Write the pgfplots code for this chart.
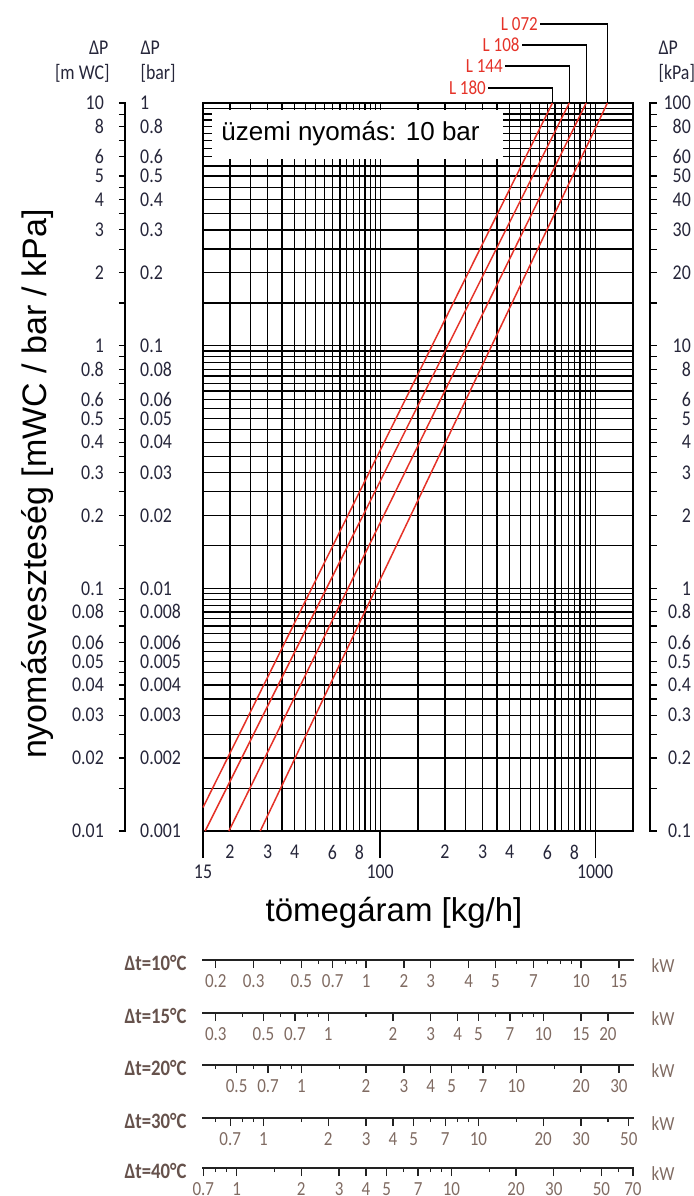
\documentclass[border=0pt]{standalone}
\usepackage{pgfplots}
\pgfplotsset{compat=1.18}
\usepackage{fontspec}
\setmainfont{Liberation Sans}
\newfontfamily\lab[FakeStretch=0.85]{Carlito}
\definecolor{linered}{HTML}{E53228}
\definecolor{ticktxt}{HTML}{26263A}
\definecolor{dtbrown}{HTML}{66524C}
\definecolor{kwbrown}{HTML}{806B62}
\definecolor{kwline}{HTML}{222222}
\newcommand\tl{\lab\fontsize{21}{21}\selectfont}
\newcommand\kl{\lab\fontsize{20}{20}\selectfont}
\newcommand\dtf{\lab\bfseries\fontsize{22}{22}\selectfont}

\pgfplotsset{
  pside/.style={anchor=south west, scale only axis, width=0.5pt, height=728pt,
    xmin=0, xmax=1, ymin=0.01, ymax=10, xtick=\empty,
    ytick={0.01,0.02,0.03,0.04,0.05,0.06,0.08,0.1,0.2,0.3,0.4,0.5,0.6,0.8,1,2,3,4,5,6,8,10}},
  pticks/.style={minor ytick={0.015,0.025,0.035,0.045,0.07,0.09,0.15,0.25,0.35,0.45,0.7,0.9,1.5,2.5,3.5,4.5,7,9},
    yticklabels={}, tick align=outside, major tick length=6pt, minor tick length=6pt,
    tick style={line width=1.2pt, black}, axis line style={line width=1.2pt, black}},
  plabs/.style={axis line style={draw=none}, major tick length=0pt, minor tick length=0pt,
    yticklabel style={font=\tl, text=ticktxt, inner xsep=0pt}},
  kwrow/.style={anchor=south west, scale only axis, width=430pt, height=0.5pt,
    ymin=0, ymax=1, ytick=\empty,
    xtick pos=bottom, tick align=outside, major tick length=8pt, minor tick length=4pt,
    axis line style={line width=1.3pt, kwline}, tick style={line width=1.3pt, kwline},
    xticklabel style={font=\kl, text=kwbrown, anchor=center, yshift=-13pt}},
}

\begin{document}
\begin{tikzpicture}
\useasboundingbox (0pt,0pt) rectangle (693pt,-1196pt);

% main chart
\begin{axis}[
  at={(203pt,-831pt)}, anchor=south west,
  scale only axis, width=430pt, height=728pt,
  xmode=log, ymode=log,
  xmin=15, xmax=1500, ymin=0.01, ymax=10,
  clip=false,
  xtick={15,20,25,30,35,40,45,50,55,60,65,70,75,80,85,90,95,100,150,200,250,300,350,400,450,500,550,600,650,700,750,800,850,900,950,1000},
  xticklabels={{},2,{},3,{},4,{},{},{},6,{},{},{},8,{},{},{},{},{},2,{},3,{},4,{},{},{},6,{},{},{},8,{},{},{},{}},
  ytick={0.01,0.015,0.02,0.025,0.03,0.035,0.04,0.045,0.05,0.055,0.06,0.065,0.07,0.075,0.08,0.085,0.09,0.095,0.1,0.15,0.2,0.25,0.3,0.35,0.4,0.45,0.5,0.55,0.6,0.65,0.7,0.75,0.8,0.85,0.9,0.95,1,1.5,2,2.5,3,3.5,4,4.5,5,5.5,6,6.5,7,7.5,8,8.5,9,9.5,10},
  yticklabels={},
  major tick length=0pt, minor tick length=0pt,
  grid=major,
  major grid style={line width=1.3pt, black},
  axis line style={line width=1.3pt, black},
  xticklabel style={font=\tl, text=ticktxt, anchor=center, yshift=-21pt},
]
\fill[white] (axis cs:16.5,9.36) rectangle (axis cs:372,5.9);
\node[anchor=west, font=\fontsize{26}{26}\selectfont] at (axis cs:17.6,7.49) {üzemi nyomás: 10 bar};

% L 180
\addplot[linered, line width=1.5pt] coordinates {(15,0.0125) (633,10)};
% L 144
\addplot[linered, line width=1.5pt] coordinates {(15.35,0.01) (758,10)};
% L 108
\addplot[linered, line width=1.5pt] coordinates {(19.8,0.01) (908,10)};
% L 072
\addplot[linered, line width=1.5pt] coordinates {(27.7,0.01) (1140,10)};

\draw[line width=1.2pt] (axis cs:633,10) -- ++(0pt,15pt) -- ++(-64pt,0pt)
  node[anchor=east, inner sep=2pt, font=\lab\fontsize{20}{20}\selectfont, text=linered] {L 180};
\draw[line width=1.2pt] (axis cs:758,10) -- ++(0pt,37pt) -- ++(-64pt,0pt)
  node[anchor=east, inner sep=2pt, font=\lab\fontsize{20}{20}\selectfont, text=linered] {L 144};
\draw[line width=1.2pt] (axis cs:908,10) -- ++(0pt,58pt) -- ++(-64pt,0pt)
  node[anchor=east, inner sep=2pt, font=\lab\fontsize{20}{20}\selectfont, text=linered] {L 108};
\draw[line width=1.2pt] (axis cs:1140,10) -- ++(0pt,79pt) -- ++(-67pt,0pt)
  node[anchor=east, inner sep=2pt, font=\lab\fontsize{20}{20}\selectfont, text=linered] {L 072};
\end{axis}

% decade labels under the x axis
\begin{axis}[
  at={(203pt,-831pt)}, anchor=south west,
  scale only axis, width=430pt, height=728pt,
  xmode=log, xmin=15, xmax=1500, ymin=0, ymax=1,
  axis line style={draw=none}, ytick=\empty,
  xtick={15,100,1000}, xticklabels={15,100,1000},
  xtick pos=bottom, tick align=outside, major tick length=27pt,
  tick style={line width=1.3pt, black},
  xticklabel style={font=\tl, text=ticktxt, anchor=center, yshift=-14pt},
]
\end{axis}

% left scale, m WC: line and ticks
\begin{axis}[ymode=log, pside, pticks, at={(125pt,-831pt)}, ytick pos=left]
\end{axis}
% m WC labels
\begin{axis}[ymode=log, pside, plabs, at={(104pt,-831pt)}, ytick pos=left,
  yticklabels={0.01,0.02,0.03,0.04,0.05,0.06,0.08,0.1,0.2,0.3,0.4,0.5,0.6,0.8,1,2,3,4,5,6,8,10},
  yticklabel style={anchor=east}]
\end{axis}
% bar labels
\begin{axis}[ymode=log, pside, plabs, at={(139.5pt,-831pt)}, ytick pos=right, yticklabel pos=right,
  yticklabels={0.001,0.002,0.003,0.004,0.005,0.006,0.008,0.01,0.02,0.03,0.04,0.05,0.06,0.08,0.1,0.2,0.3,0.4,0.5,0.6,0.8,1},
  yticklabel style={anchor=west}]
\end{axis}
% right scale, kPa: line and ticks
\begin{axis}[ymode=log, pside, pticks, at={(650pt,-831pt)}, ytick pos=right]
\end{axis}
% kPa labels
\begin{axis}[ymode=log, pside, plabs, at={(691pt,-831pt)}, ytick pos=left,
  yticklabels={0.1,0.2,0.3,0.4,0.5,0.6,0.8,1,2,3,4,5,6,8,10,20,30,40,50,60,80,100},
  yticklabel style={anchor=east}]
\end{axis}

% headers of the side scales
\node[anchor=base east, font=\tl, text=ticktxt] at (112pt,-55pt) {ΔP};
\node[anchor=base east, font=\tl, text=ticktxt] at (113pt,-80pt) {[m WC]};
\node[anchor=base west, font=\tl, text=ticktxt] at (137pt,-55pt) {ΔP};
\node[anchor=base west, font=\tl, text=ticktxt] at (137pt,-80pt) {[bar]};
\node[anchor=base west, font=\tl, text=ticktxt] at (655pt,-55pt) {ΔP};
\node[anchor=base west, font=\tl, text=ticktxt] at (655pt,-80pt) {[kPa]};

% axis titles
\node[rotate=90, font=\fontsize{34}{34}\selectfont] at (38pt,-484pt) {nyomásveszteség [mWC / bar / kPa]};
\node[font=\fontsize{33}{33}\selectfont] at (394pt,-913pt) {tömegáram [kg/h]};

% heat output scales (kW), one per temperature difference
\begin{axis}[xmode=log, kwrow, at={(203pt,-960pt)}, xmin=0.17442, xmax=17.442,
  xtick={0.2,0.3,0.5,0.7,1,1.5,2,3,4,6,10,15},
  xticklabels={0.2,0.3,0.5,0.7,1,2,3,4,5,7,10,15},
  minor xtick={0.4,0.6,0.8,0.9,5,7,8,9}]
\end{axis}
\begin{axis}[xmode=log, kwrow, at={(203pt,-1013pt)}, xmin=0.26163, xmax=26.163,
  xtick={0.3,0.5,0.7,1,2,3,4,5,7,10,15,20},
  xticklabels={0.3,0.5,0.7,1,2,3,4,5,7,10,15,20},
  minor xtick={0.4,0.6,0.8,0.9,1.5,6,8,9}]
\end{axis}
\begin{axis}[xmode=log, kwrow, at={(203pt,-1065pt)}, xmin=0.34884, xmax=34.884,
  xtick={0.5,0.7,1,2,3,4,5,7,10,20,30},
  xticklabels={0.5,0.7,1,2,3,4,5,7,10,20,30},
  minor xtick={0.4,0.6,0.8,0.9,1.5,6,8,15}]
\end{axis}
\begin{axis}[xmode=log, kwrow, at={(203pt,-1118pt)}, xmin=0.52325, xmax=52.325,
  xtick={0.7,1,2,3,4,5,7,10,20,30,50},
  xticklabels={0.7,1,2,3,4,5,7,10,20,30,50},
  minor xtick={0.6,0.8,0.9,1.5,6,8,9,15,40}]
\end{axis}
\begin{axis}[xmode=log, kwrow, at={(203pt,-1168pt)}, xmin=0.69767, xmax=70.1,
  xtick={0.7,1,2,3,4,5,7,10,20,30,50,70},
  xticklabels={0.7,1,2,3,4,5,7,10,20,30,50,70},
  minor xtick={0.8,0.9,1.5,6,8,9,15,40,60}]
\end{axis}

\foreach \dt/\yy in {10/960,15/1013,20/1065,30/1118,40/1168}{
  \node[anchor=east, font=\dtf, text=dtbrown] at (190pt,-\yy pt-3pt) {Δt=\dt°C};
  \node[anchor=west, font=\kl, text=kwbrown] at (648pt,-\yy pt-6pt) {kW};
}
\end{tikzpicture}
\end{document}
